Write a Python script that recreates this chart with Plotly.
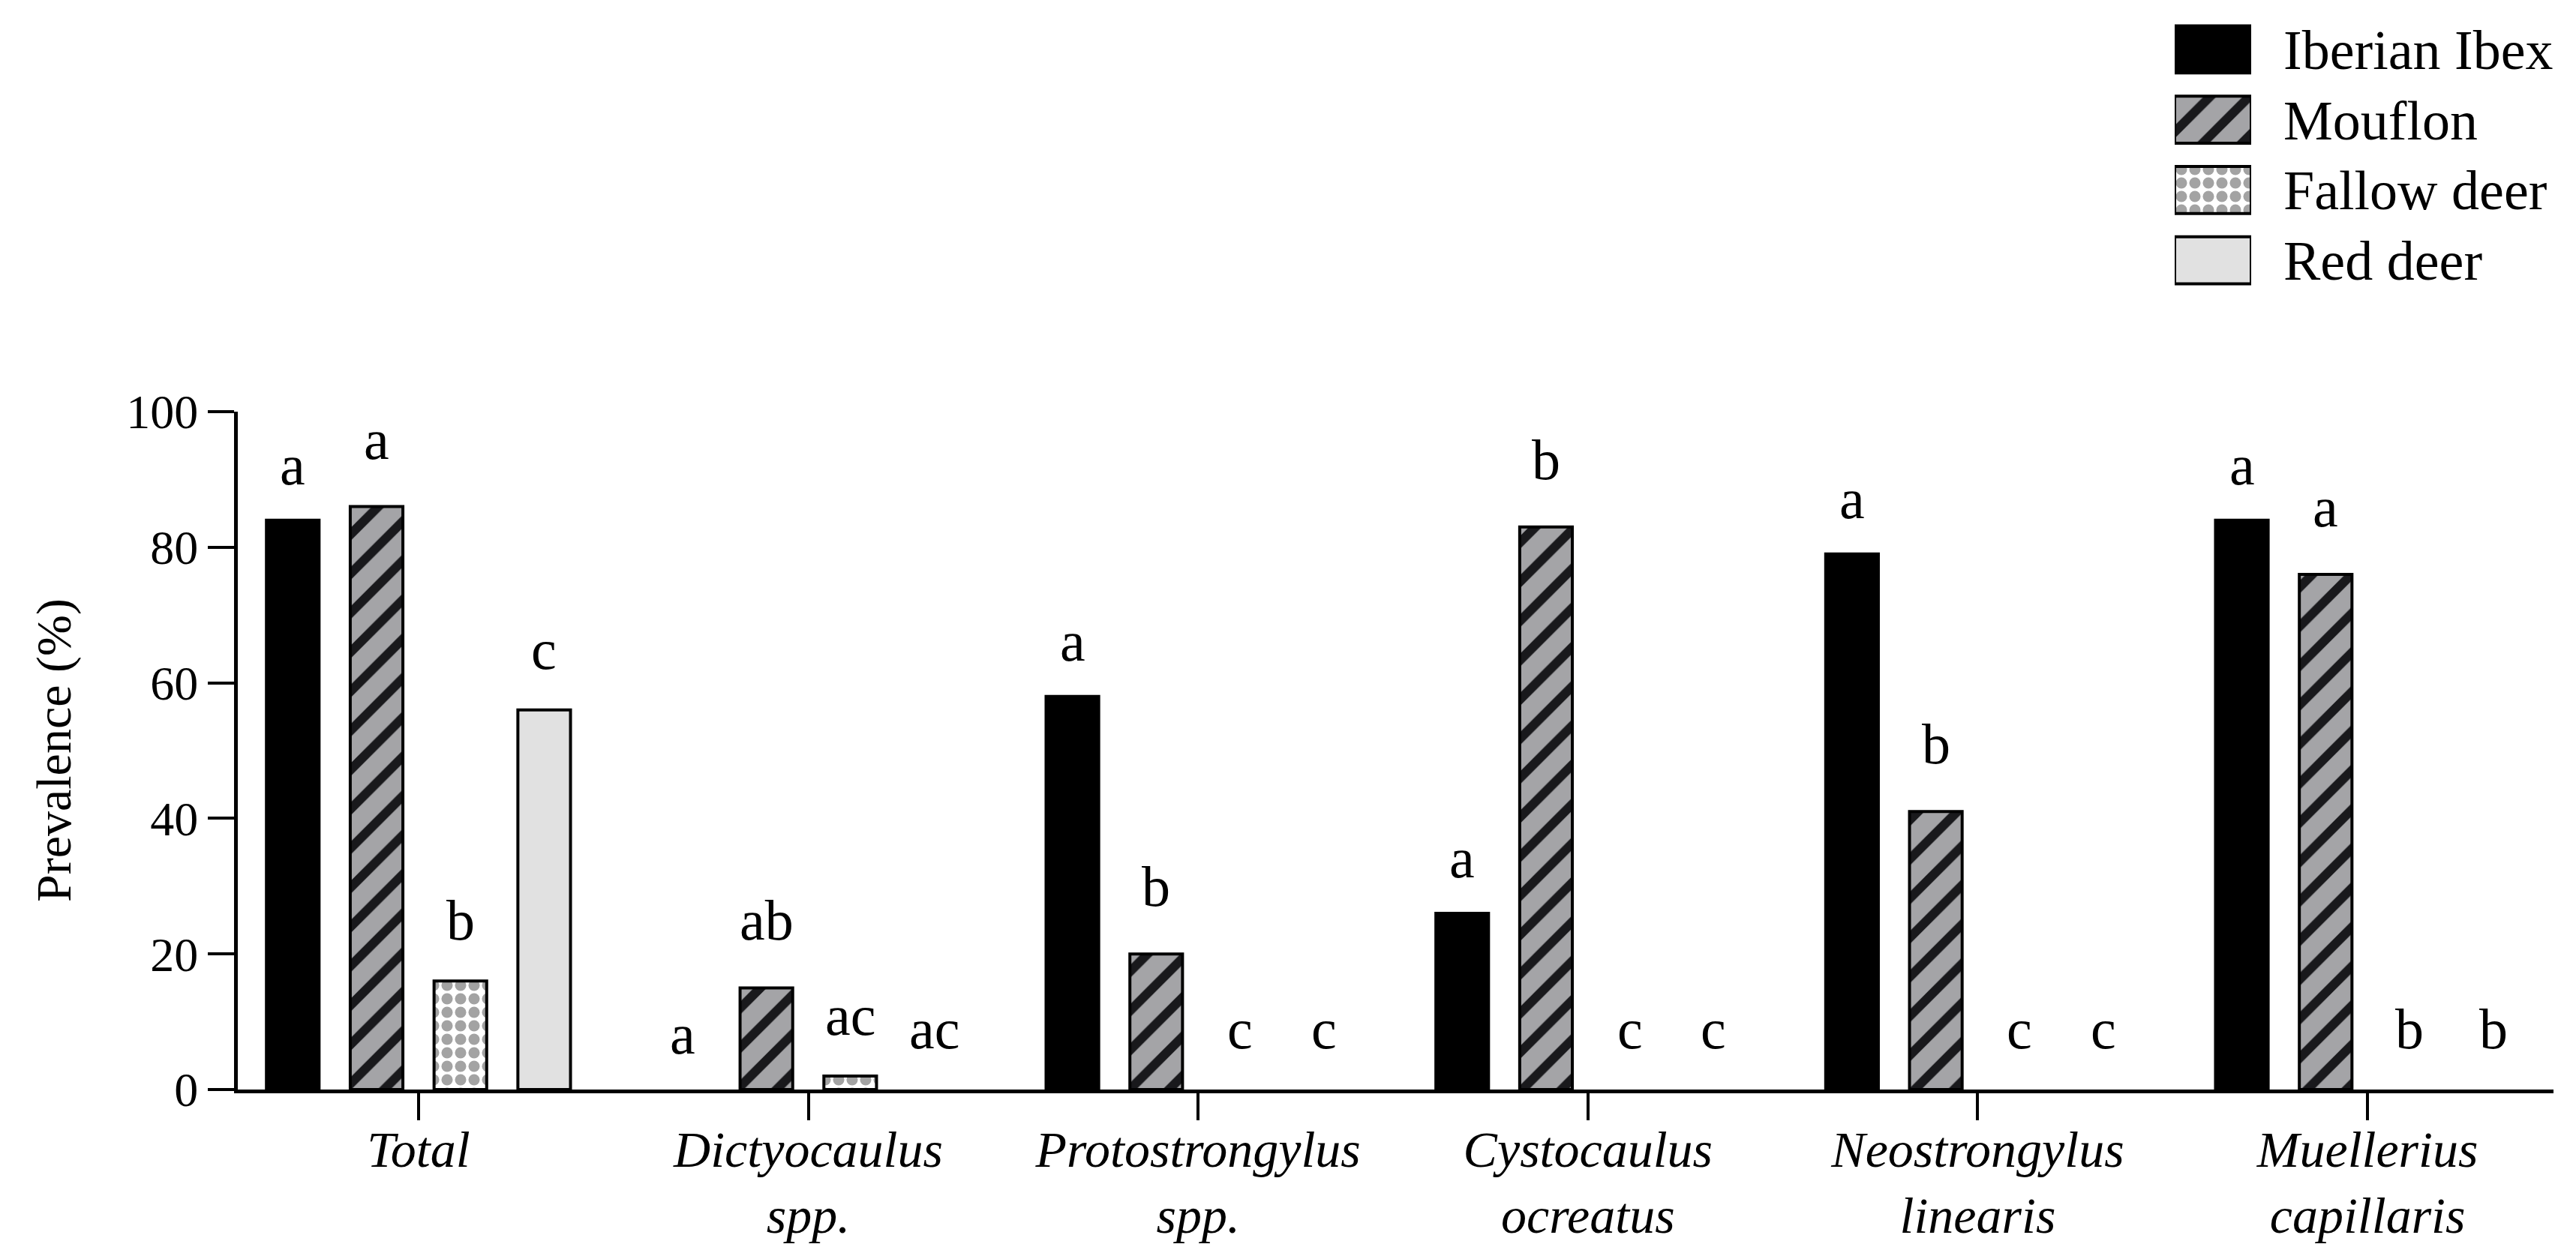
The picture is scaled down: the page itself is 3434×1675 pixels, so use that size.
import plotly.graph_objects as go

# ---------------- data ----------------
categories = ["Total", "Dictyocaulus spp.", "Protostrongylus spp.",
              "Cystocaulus ocreatus", "Neostrongylus linearis", "Muellerius capillaris"]
tick_labels = ["<i>Total</i>",
               "<i>Dictyocaulus</i><br><i>spp.</i>",
               "<i>Protostrongylus</i><br><i>spp.</i>",
               "<i>Cystocaulus</i><br><i>ocreatus</i>",
               "<i>Neostrongylus</i><br><i>linearis</i>",
               "<i>Muellerius</i><br><i>capillaris</i>"]
series_names = ["Iberian Ibex", "Mouflon", "Fallow deer", "Red deer"]
ibex = [84, 0, 58, 26, 79, 84]
mouflon = [86, 15, 20, 83, 41, 76]
fallow = [16, 2, 0, 0, 0, 0]
red = [56, 0, 0, 0, 0, 0]
ibex_letters = ["a", "a", "a", "a", "a", "a"]
mouflon_letters = ["a", "ab", "b", "b", "b", "a"]
fallow_letters = ["b", "ac", "c", "c", "c", "b"]
red_letters = ["c", "ac", "c", "c", "c", "b"]
y_ticks = [0, 20, 40, 60, 80, 100]

# ---------------- styles ----------------
FONT = "Liberation Serif, Times New Roman, Times, serif"
W, H = 3434, 1675
ML, MR, MT, MB = 309, 38, 0, 230
BARGAP = 0.14
BARGROUPGAP = 0.372

fills = [
    dict(color="black"),
    dict(color="#a4a4a7",
         pattern=dict(shape="/", fgcolor="#19191c", bgcolor="#a4a4a7",
                      size=37, solidity=0.33, fillmode="replace")),
    dict(color="white",
         pattern=dict(shape=".", fgcolor="#a3a3a3", bgcolor="white",
                      size=18, solidity=0.55, fillmode="replace")),
    dict(color="#e1e1e1"),
]
letter_gap = [30, 46, 37, 37]  # px above bar top

values = [ibex, mouflon, fallow, red]
letters = [ibex_letters, mouflon_letters, fallow_letters, red_letters]

fig = go.Figure()
for name, vals, fl in zip(series_names, values, fills):
    line_w = [4 if v > 0 else 0 for v in vals]
    fig.add_trace(go.Bar(x=categories, y=vals, name=name,
                         marker=dict(**fl, line=dict(color="black", width=line_w)),
                         showlegend=False, xaxis="x", yaxis="y"))

# legend swatches drawn as bars in a small separate axis
for name, fl in zip(series_names, fills):
    fig.add_trace(go.Bar(x=[1], y=[name], orientation="h",
                         marker=dict(**fl, line=dict(color="black", width=4)),
                         width=0.67, offset=-0.335, showlegend=False,
                         xaxis="x2", yaxis="y2"))

# significance letters
slot = (1 - BARGAP) / len(series_names)
annotations = []
for k, (vals, labs) in enumerate(zip(values, letters)):
    off = (k - (len(series_names) - 1) / 2) * slot
    for i, (v, t) in enumerate(zip(vals, labs)):
        annotations.append(dict(x=i + off, y=v, xref="x", yref="y", text=t,
                                showarrow=False, yanchor="bottom", xanchor="center",
                                yshift=letter_gap[k],
                                font=dict(family=FONT, size=76, color="black")))

plot_h = H - MT - MB
plot_w = W - ML - MR
y_top_frac = (1445 - 541) / plot_h
annotations.append(dict(x=-(309 - 64) / plot_w, y=y_top_frac / 2,
                        xref="paper", yref="paper", text="Prevalence (%)",
                        textangle=-90, showarrow=False, xanchor="center", yanchor="middle",
                        font=dict(family=FONT, size=66, color="black")))

fig.update_layout(
    width=W, height=H, autosize=False,
    margin=dict(l=ML, r=MR, t=MT, b=MB, pad=0),
    paper_bgcolor="white", plot_bgcolor="white",
    barmode="group", bargap=BARGAP, bargroupgap=BARGROUPGAP,
    font=dict(family=FONT, color="black"),
    annotations=annotations,
    xaxis=dict(domain=[0, 1], range=[-0.4635, 5.477], type="category",
               tickvals=categories, ticktext=tick_labels,
               showline=True, linecolor="black", linewidth=5,
               ticks="outside", ticklen=36, tickwidth=4, tickcolor="black",
               ticklabelstandoff=-20,
               showgrid=False, zeroline=False, automargin=False,
               tickfont=dict(family=FONT, size=68, color="black"), anchor="y"),
    yaxis=dict(domain=[0, y_top_frac], range=[0, 100], tickvals=y_ticks,
               showline=True, linecolor="black", linewidth=5,
               ticks="outside", ticklen=35, tickwidth=4, tickcolor="black",
               showgrid=False, zeroline=False, automargin=False,
               tickfont=dict(family=FONT, size=64, color="black"), anchor="x"),
    xaxis2=dict(domain=[(2891 - ML) / plot_w, (2993 - ML) / plot_w], range=[0, 1],
                visible=False, anchor="y2", fixedrange=True),
    yaxis2=dict(domain=[1 - 386 / plot_h, 1 - 11 / plot_h], type="category",
                categoryorder="array", categoryarray=series_names[::-1],
                side="right", anchor="x2", showline=False, showgrid=False,
                zeroline=False, ticks="", ticklabelstandoff=42, automargin=False,
                tickfont=dict(family=FONT, size=74, color="black"), fixedrange=True),
)

fig.write_html("out.html")
